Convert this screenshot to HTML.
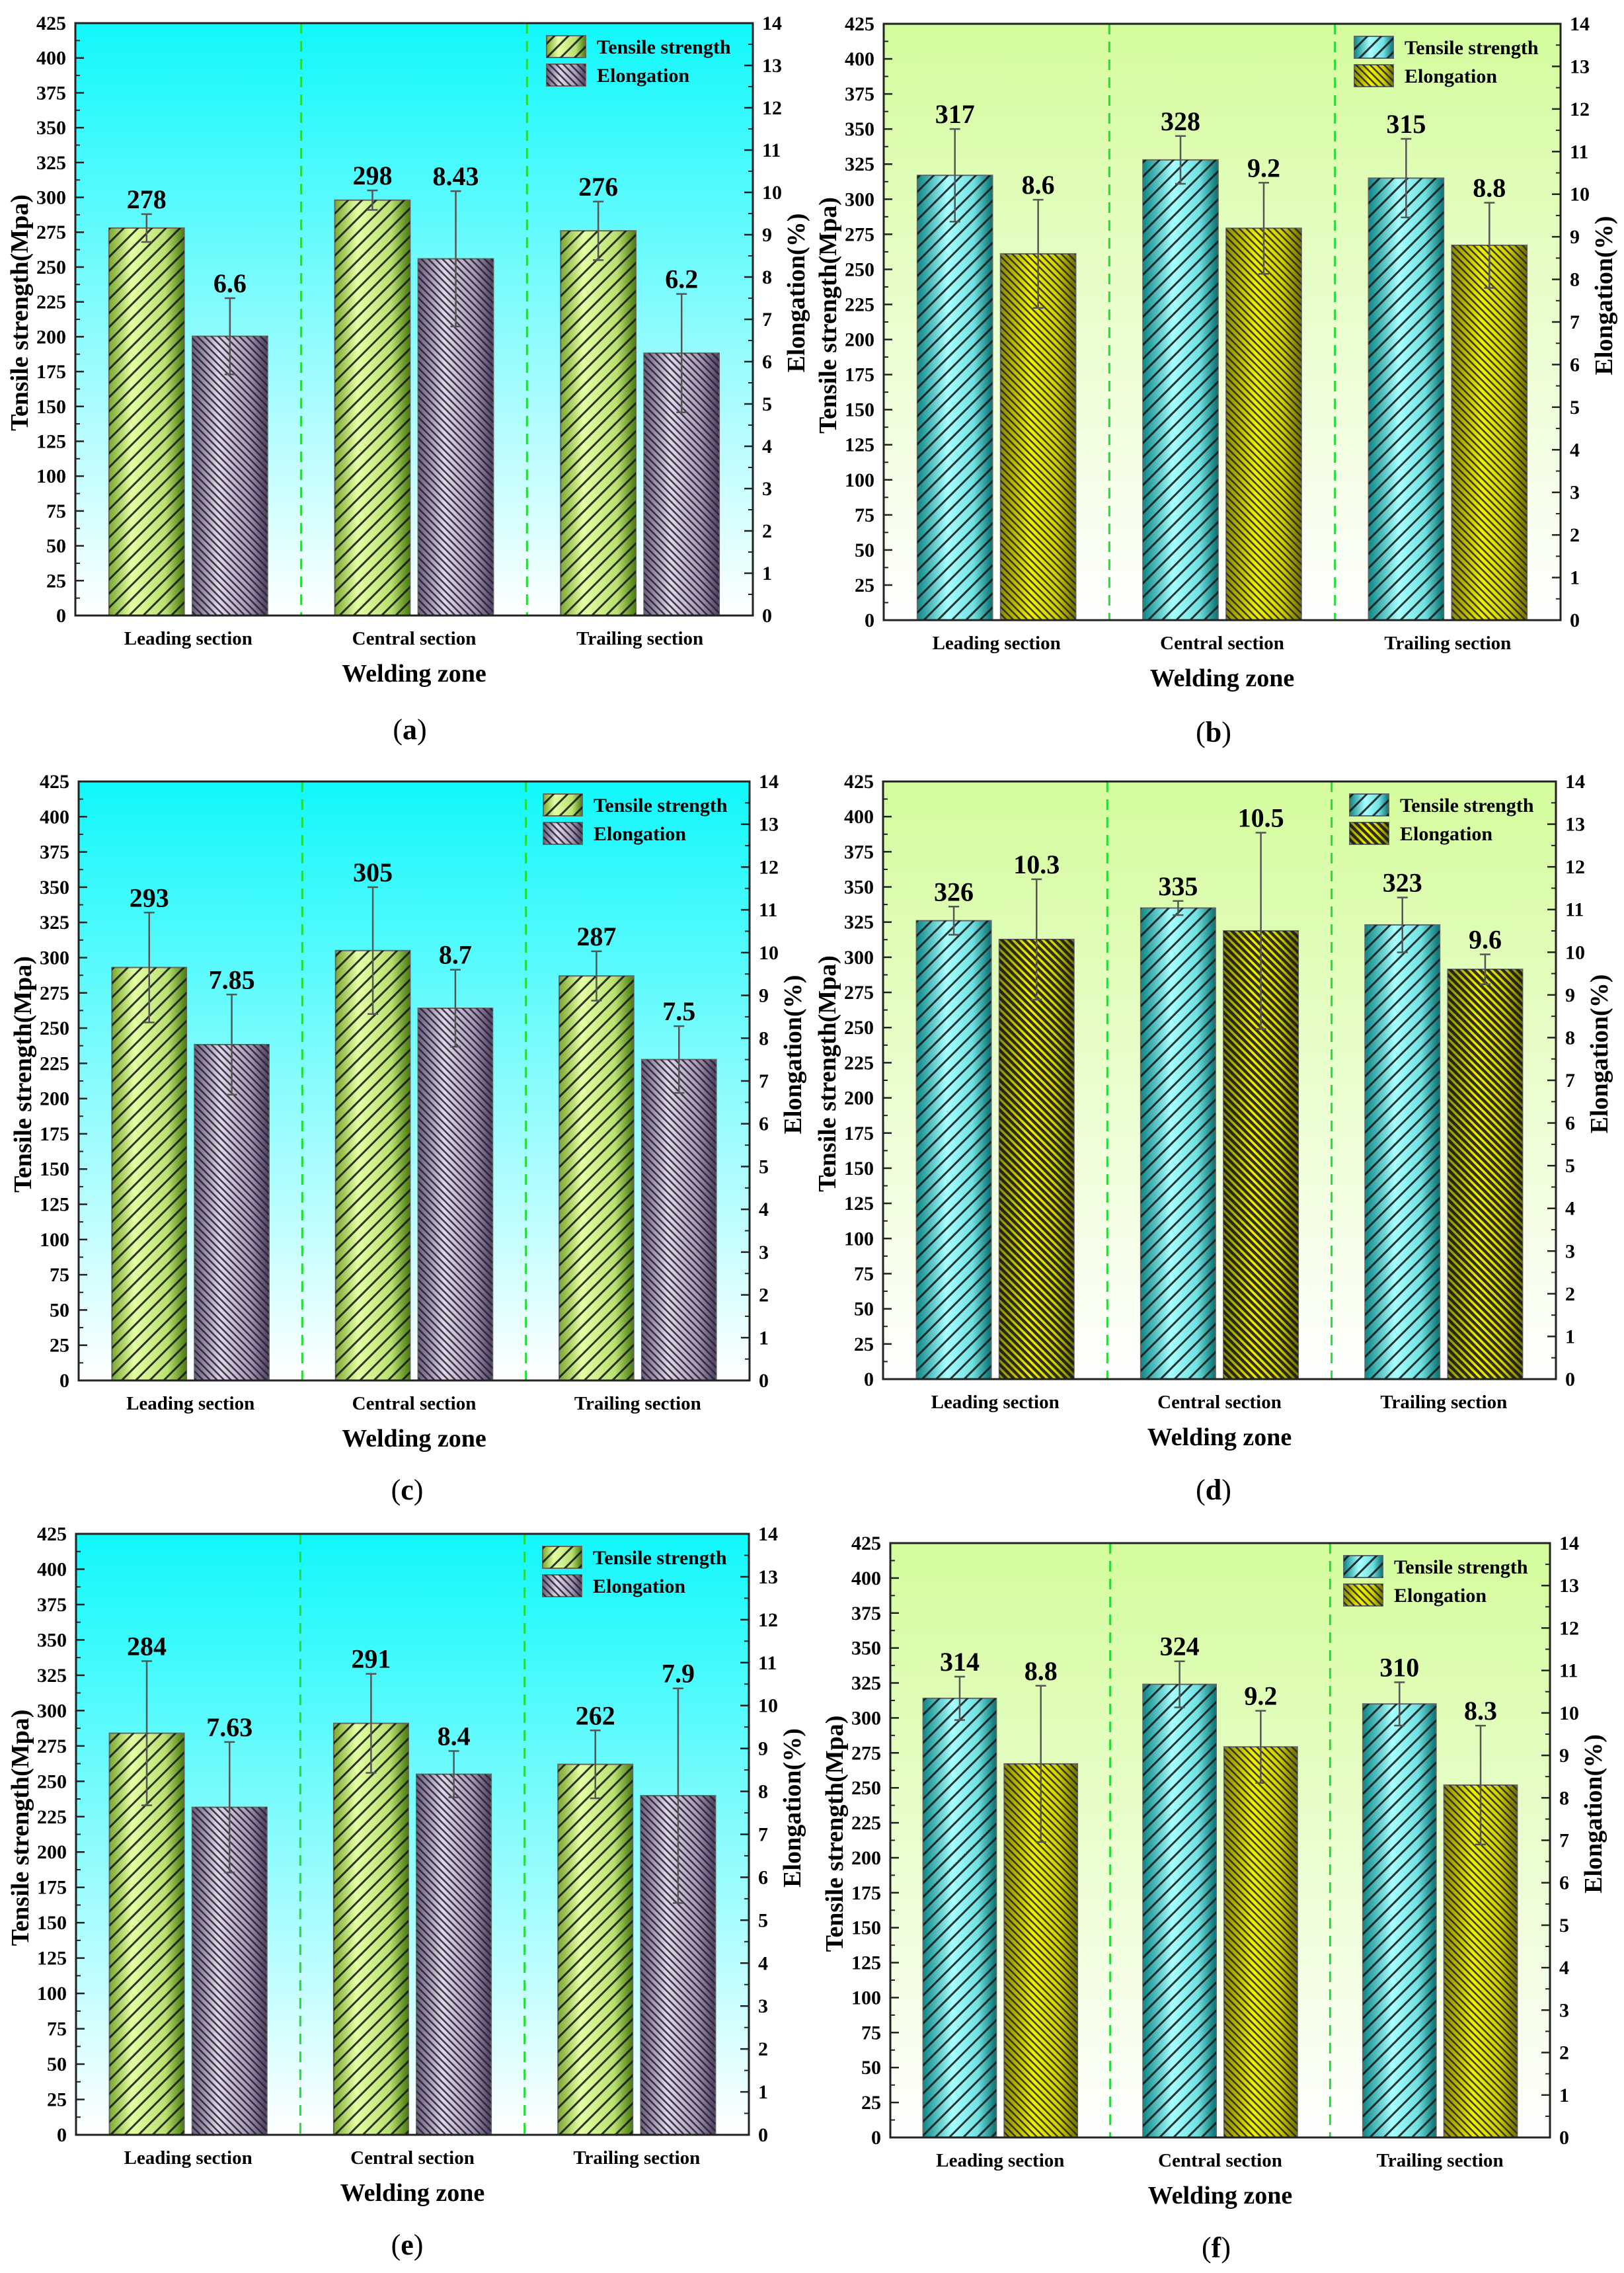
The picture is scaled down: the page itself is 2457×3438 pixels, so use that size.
<!DOCTYPE html>
<html><head><meta charset="utf-8">
<style>
html,body{margin:0;padding:0;background:#fff;}
svg{display:block;}
text{font-family:"Liberation Serif",serif;font-weight:bold;fill:#000;}
</style></head>
<body>
<svg id="fig" width="2457" height="3438" viewBox="0 0 2457 3438" xmlns="http://www.w3.org/2000/svg">
<defs>
<linearGradient id="bgCyan" x1="0" y1="0" x2="0" y2="1"><stop offset="0" stop-color="#10f8fb"/><stop offset="1" stop-color="#ffffff"/></linearGradient>
<linearGradient id="bgLime" x1="0" y1="0" x2="0" y2="1"><stop offset="0" stop-color="#d4fc9c"/><stop offset="1" stop-color="#ffffff"/></linearGradient>
<linearGradient id="gGreen" x1="0" y1="0" x2="1" y2="0"><stop offset="0" stop-color="#7aa830"/><stop offset="0.3" stop-color="#e4ffa4"/><stop offset="0.75" stop-color="#b8e070"/><stop offset="1" stop-color="#4a7a10"/></linearGradient>
<linearGradient id="gPurple" x1="0" y1="0" x2="1" y2="0"><stop offset="0" stop-color="#6a5a82"/><stop offset="0.35" stop-color="#e2d6ee"/><stop offset="0.75" stop-color="#a898bc"/><stop offset="1" stop-color="#4e3e66"/></linearGradient>
<linearGradient id="gTeal" x1="0" y1="0" x2="1" y2="0"><stop offset="0" stop-color="#0c8686"/><stop offset="0.4" stop-color="#a8ffff"/><stop offset="0.75" stop-color="#70e0e0"/><stop offset="1" stop-color="#087070"/></linearGradient>
<linearGradient id="gYellow" x1="0" y1="0" x2="1" y2="0"><stop offset="0" stop-color="#8a8a00"/><stop offset="0.4" stop-color="#f0f000"/><stop offset="0.75" stop-color="#d0d000"/><stop offset="1" stop-color="#707000"/></linearGradient>
<pattern id="hatchFwd" patternUnits="userSpaceOnUse" width="15" height="15" patternTransform="rotate(45)"><rect x="0" y="0" width="3" height="15" fill="#111"/></pattern>
<pattern id="hatchBack" patternUnits="userSpaceOnUse" width="7.5" height="7.5" patternTransform="rotate(-45)"><rect x="0" y="0" width="2.6" height="7.5" fill="#222"/></pattern>
<pattern id="hatchBackDark" patternUnits="userSpaceOnUse" width="8" height="8" patternTransform="rotate(-45)"><rect x="0" y="0" width="4.5" height="8" fill="#111"/></pattern>
</defs>
<g id="root"></g>
</svg>
<script>
const categories = ["Leading section","Central section","Trailing section"];
const yLeftTicks = [0,25,50,75,100,125,150,175,200,225,250,275,300,325,350,375,400,425];
const yRightTicks = [0,1,2,3,4,5,6,7,8,9,10,11,12,13,14];
const tensileLabels = [["278","298","276"],["317","328","315"],["293","305","287"],["326","335","323"],["284","291","262"],["314","324","310"]];
const elongLabels = [["6.6","8.43","6.2"],["8.6","9.2","8.8"],["7.85","8.7","7.5"],["10.3","10.5","9.6"],["7.63","8.4","7.9"],["8.8","9.2","8.3"]];
const tensileA = [278,298,276], tensileErrA = [10,7,21], elongA = [6.6,8.43,6.2], elongErrA = [0.9,1.6,1.4];
const tensileB = [317,328,315], tensileErrB = [33,17,28], elongB = [8.6,9.2,8.8], elongErrB = [1.27,1.07,1.0];
const tensileC = [293,305,287], tensileErrC = [39,45,17.5], elongC = [7.85,8.7,7.5], elongErrC = [1.17,0.9,0.78];
const tensileD = [326,335,323], tensileErrD = [10,5,19.5], elongD = [10.3,10.5,9.6], elongErrD = [1.41,2.3,0.35];
const tensileE = [284,291,262], tensileErrE = [51,35,24], elongE = [7.63,8.4,7.9], elongErrE = [1.52,0.54,2.5];
const tensileF = [314,324,310], tensileErrF = [15.5,16.5,15.5], elongF = [8.8,9.2,8.3], elongErrF = [1.84,0.85,1.4];

const NS = "http://www.w3.org/2000/svg";
const root = document.getElementById("root");
function mk(tag, attrs, parent){const e=document.createElementNS(NS,tag);for(const k in attrs)e.setAttribute(k,attrs[k]);(parent||root).appendChild(e);return e;}

const panels = [
 {id:"a",L:114,R:1139,T:35,B:931,theme:"cyan",t:tensileA,te:tensileErrA,e:elongA,ee:elongErrA,cx:620,cy:1118},
 {id:"b",L:1337,R:2361,T:36,B:938,theme:"lime",t:tensileB,te:tensileErrB,e:elongB,ee:elongErrB,cx:1836,cy:1122},
 {id:"c",L:119,R:1134,T:1182,B:2088,theme:"cyan",t:tensileC,te:tensileErrC,e:elongC,ee:elongErrC,cx:616,cy:2268},
 {id:"d",L:1336,R:2354,T:1182,B:2086,theme:"limeDark",t:tensileD,te:tensileErrD,e:elongD,ee:elongErrD,cx:1836,cy:2268},
 {id:"e",L:115,R:1133,T:2320,B:3229,theme:"cyan",t:tensileE,te:tensileErrE,e:elongE,ee:elongErrE,cx:616,cy:3410},
 {id:"f",L:1347,R:2345,T:2334,B:3233,theme:"lime",t:tensileF,te:tensileErrF,e:elongF,ee:elongErrF,cx:1840,cy:3414}
];

panels.forEach((p,pi)=>{
  const g = mk("g",{});
  
  
  const W=p.R-p.L, H=p.B-p.T;
  const yL = v => p.B - v/425*H;
  const yR = v => p.B - v/14*H;
  const xC = i => p.L + W*(2*i+1)/6;
  const bw = W*0.111, gap = W*0.006;
  const cyan = p.theme==="cyan";
  const bg = mk("rect",{x:p.L,y:p.T,width:W,height:H,fill:cyan?"url(#bgCyan)":"url(#bgLime)"},g);
  
  
  [1,2].forEach(k=>{
    const x=p.L+W*k/3;
    const d=mk("line",{x1:x,y1:p.T,x2:x,y2:p.B,stroke:"#22dd33","stroke-width":3,"stroke-dasharray":"16 11"},g);
    
    
  });
  const tFill = cyan?"url(#gGreen)":"url(#gTeal)";
  const eFill = cyan?"url(#gPurple)":"url(#gYellow)";
  const eHatch = p.theme==="limeDark"?"url(#hatchBackDark)":"url(#hatchBack)";
  for(let i=0;i<3;i++){
    const cx=xC(i);
    const tx=cx-gap-bw, ty=yL(p.t[i]);
    const tb=mk("rect",{x:tx,y:ty,width:bw,height:p.B-ty,fill:tFill,stroke:"#666","stroke-width":2},g);
    
    
    mk("rect",{x:tx,y:ty,width:bw,height:p.B-ty,fill:"url(#hatchFwd)",opacity:0.85},g);
    const ex=cx+gap, ey=yR(p.e[i]);
    const eb=mk("rect",{x:ex,y:ey,width:bw,height:p.B-ey,fill:eFill,stroke:"#666","stroke-width":2},g);
    
    
    mk("rect",{x:ex,y:ey,width:bw,height:p.B-ey,fill:eHatch,opacity:0.85},g);
    const drawErr=(x,top,bot,name)=>{
      const eg=mk("g",{stroke:"#555","stroke-width":2.5},g);
      
      
      mk("line",{x1:x,y1:top,x2:x,y2:bot},eg);
      mk("line",{x1:x-8,y1:top,x2:x+8,y2:top},eg);
      mk("line",{x1:x-8,y1:bot,x2:x+8,y2:bot},eg);
    };
    const tTop=yL(p.t[i]+p.te[i]), tBot=yL(p.t[i]-p.te[i]);
    drawErr(tx+bw/2,tTop,tBot,'tensile-error-bar');
    const eTop=yR(p.e[i]+p.ee[i]), eBot=yR(p.e[i]-p.ee[i]);
    drawErr(ex+bw/2,eTop,eBot,'elongation-error-bar');
    const tl=mk("text",{x:tx+bw/2,y:tTop-9,"font-size":40,"text-anchor":"middle"},g);
    tl.textContent=tensileLabels[pi][i];
    
    
    const el=mk("text",{x:ex+bw/2,y:eTop-9,"font-size":40,"text-anchor":"middle"},g);
    el.textContent=elongLabels[pi][i];
    
    
    const xl=mk("text",{x:cx,y:p.B+44,"font-size":29,"text-anchor":"middle"},g);
    xl.textContent=categories[i];
    
    
  }
  const fr=mk("rect",{x:p.L,y:p.T,width:W,height:H,fill:"none",stroke:"#222","stroke-width":3},g);
  
  
  yLeftTicks.forEach((v,k)=>{
    const y=yL(v);
    mk("line",{x1:p.L,y1:y,x2:p.L+13,y2:y,stroke:"#222","stroke-width":2.5},g);
    if(k<yLeftTicks.length-1){const ym=yL(v+12.5);mk("line",{x1:p.L,y1:ym,x2:p.L+7,y2:ym,stroke:"#222","stroke-width":2},g);}
    const t=mk("text",{x:p.L-14,y:y+10,"font-size":30,"text-anchor":"end"},g);
    t.textContent=v;
    
    
  });
  yRightTicks.forEach((v,k)=>{
    const y=yR(v);
    mk("line",{x1:p.R,y1:y,x2:p.R-13,y2:y,stroke:"#222","stroke-width":2.5},g);
    if(k<yRightTicks.length-1){const ym=yR(v+0.5);mk("line",{x1:p.R,y1:ym,x2:p.R-7,y2:ym,stroke:"#222","stroke-width":2},g);}
    const t=mk("text",{x:p.R+14,y:y+10,"font-size":30,"text-anchor":"start"},g);
    t.textContent=v;
    
    
  });
  const my=(p.T+p.B)/2;
  const yt=mk("text",{x:0,y:0,"font-size":38,"text-anchor":"middle",transform:`translate(${p.L-72},${my-10}) rotate(-90)`},g);
  yt.textContent="Tensile strength(Mpa)";
  
  
  const yt2=mk("text",{x:0,y:0,"font-size":38,"text-anchor":"middle",transform:`translate(${p.R+78},${my-40}) rotate(-90)`},g);
  yt2.textContent="Elongation(%)";
  
  
  const xt=mk("text",{x:(p.L+p.R)/2,y:p.B+100,"font-size":38,"text-anchor":"middle"},g);
  xt.textContent="Welding zone";
  
  
  const lg=mk("g",{},g);
  
  
  const lx=p.R-312, ly=p.T+19;
  mk("rect",{x:lx,y:ly,width:59,height:33,fill:tFill,stroke:"#666","stroke-width":2},lg);
  mk("rect",{x:lx,y:ly,width:59,height:33,fill:"url(#hatchFwd)",opacity:0.85},lg);
  mk("rect",{x:lx,y:ly+43,width:59,height:33,fill:eFill,stroke:"#666","stroke-width":2},lg);
  mk("rect",{x:lx,y:ly+43,width:59,height:33,fill:eHatch,opacity:0.85},lg);
  const l1=mk("text",{x:lx+76,y:ly+27,"font-size":30},lg);
  l1.textContent="Tensile strength";
  
  
  const l2=mk("text",{x:lx+76,y:ly+70,"font-size":30},lg);
  l2.textContent="Elongation";
  
  
  const cap=mk("text",{x:p.cx,y:p.cy,"font-size":44,"text-anchor":"middle"},g);
  cap.innerHTML='<tspan font-weight="normal">(</tspan>'+p.id+'<tspan font-weight="normal">)</tspan>';
  
  
});
</script>
</body></html>
